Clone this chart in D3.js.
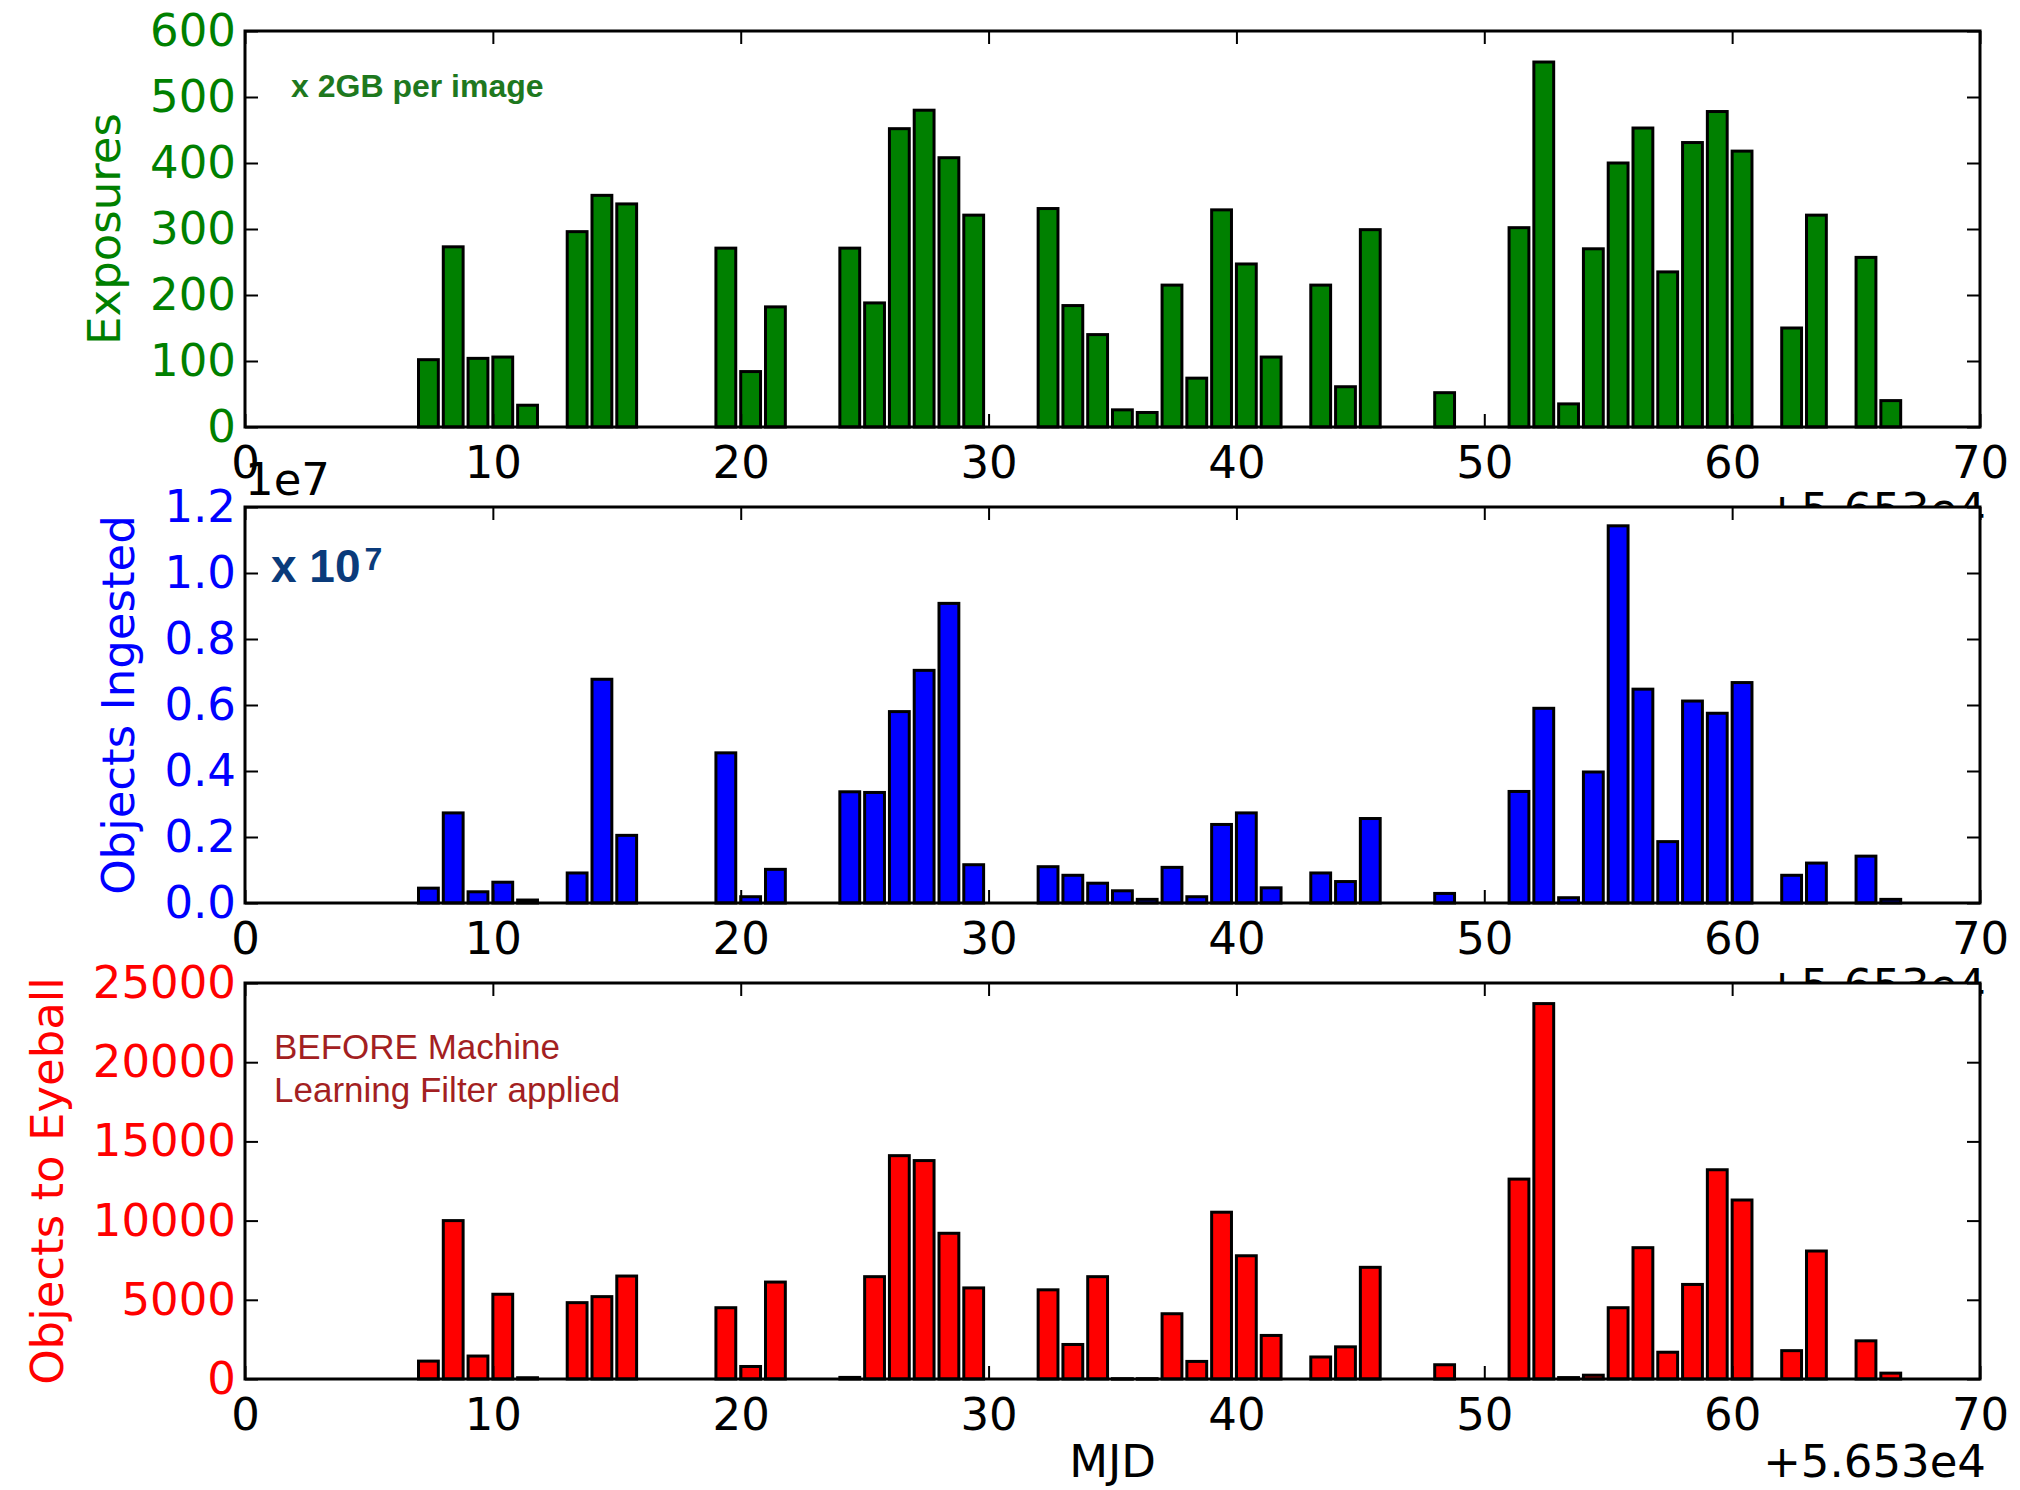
<!DOCTYPE html>
<html>
<head>
<meta charset="utf-8">
<script src="https://cdn.jsdelivr.net/npm/d3@7"></script>
<style>
  html, body { margin: 0; padding: 0; background: #fff; }
  svg { display: block; }
  .tick line { stroke: #000; stroke-width: 2; }
  .tick text { font-family: "DejaVu Sans", sans-serif; font-size: 45px; fill: #000; }
</style>
</head>
<body>
<svg id="chart" width="2020" height="1490"></svg>
<script>
// Observing nights (MJD) with activity
const mjd = [56537, 56538, 56539, 56540, 56541, 56543, 56544, 56545, 56549, 56550,
             56551, 56554, 56555, 56556, 56557, 56558, 56559, 56562, 56563, 56564,
             56565, 56566, 56567, 56568, 56569, 56570, 56571, 56573, 56574, 56575,
             56578, 56581, 56582, 56583, 56584, 56585, 56586, 56587, 56588, 56589,
             56590, 56592, 56593, 56595, 56596];

// Exposures per night
const exposures = [102, 273, 104, 106, 33, 296, 351, 338, 271, 84,
                   182, 271, 188, 452, 480, 408, 321, 331, 184, 140,
                   26, 22, 215, 74, 329, 247, 106, 215, 61, 299,
                   52, 302, 553, 35, 270, 400, 453, 235, 431, 478,
                   418, 150, 321, 257, 40];

// Objects ingested per night
const objectsIngested = [450000, 2730000, 340000, 630000, 90000, 910000, 6780000, 2050000, 4550000, 190000,
                         1020000, 3370000, 3350000, 5800000, 7050000, 9080000, 1160000, 1100000, 840000, 600000,
                         370000, 110000, 1080000, 190000, 2380000, 2730000, 460000, 910000, 650000, 2560000,
                         290000, 3380000, 5900000, 160000, 3970000, 11430000, 6480000, 1860000, 6120000, 5750000,
                         6680000, 840000, 1210000, 1420000, 110000];

// Objects to eyeball per night (before machine-learning filter)
const objectsToEyeball = [1130, 10000, 1450, 5350, 80, 4820, 5200, 6500, 4500, 790,
                          6120, 100, 6460, 14100, 13790, 9200, 5750, 5630, 2180, 6460,
                          20, 20, 4120, 1110, 10530, 7780, 2750, 1390, 2030, 7050,
                          900, 12620, 23700, 90, 240, 4500, 8290, 1690, 5970, 13210,
                          11300, 1790, 8080, 2410, 370];

// Axis ticks
const mjdOffset = 56530;
const mjdTicks = [56530, 56540, 56550, 56560, 56570, 56580, 56590, 56600];
const exposureTicks = [0, 100, 200, 300, 400, 500, 600];
const ingestedTicks = [0, 2e6, 4e6, 6e6, 8e6, 1e7, 1.2e7];
const eyeballTicks = [0, 5000, 10000, 15000, 20000, 25000];

const svg = d3.select("#chart");
svg.append("rect").attr("width", 2020).attr("height", 1490).attr("fill", "#fff");

const plotLeft = 245, plotRight = 1980, plotHeight = 396;
const panelTops = [31, 507, 983];
const barWidth = 0.8;

const x = d3.scaleLinear().domain([mjdTicks[0], mjdTicks[mjdTicks.length - 1]]).range([plotLeft, plotRight]);

const panels = [
  { values: exposures, ticks: exposureTicks, color: "#008000", label: "Exposures",
    fmt: d => String(d), yOffsetText: null },
  { values: objectsIngested, ticks: ingestedTicks, color: "#0000ff", label: "Objects Ingested",
    fmt: d => (d / 1e7).toFixed(1), yOffsetText: "1e7" },
  { values: objectsToEyeball, ticks: eyeballTicks, color: "#ff0000", label: "Objects to Eyeball",
    fmt: d => String(d), yOffsetText: null }
];

panels.forEach((p, i) => {
  const top = panelTops[i], bottom = top + plotHeight;
  const y = d3.scaleLinear().domain([0, d3.max(p.ticks)]).range([bottom, top]);
  const g = svg.append("g");

  // axes background
  g.append("rect")
    .attr("x", plotLeft).attr("y", top)
    .attr("width", plotRight - plotLeft).attr("height", plotHeight)
    .attr("fill", "#fff");

  // bars
  g.append("g").selectAll("rect")
    .data(mjd.map((m, k) => ({ m, v: p.values[k] })))
    .join("rect")
    .attr("x", d => x(d.m))
    .attr("width", d => x(d.m + barWidth) - x(d.m))
    .attr("y", d => y(d.v))
    .attr("height", d => Math.max(0.5, y(0) - y(d.v)))
    .attr("fill", p.color)
    .attr("stroke", "#000")
    .attr("stroke-width", 3);

  // bottom axis with labels, ticks inward
  const xb = g.append("g").attr("transform", `translate(0,${bottom})`)
    .call(d3.axisBottom(x).tickValues(mjdTicks).tickSizeInner(-13).tickSizeOuter(0).tickPadding(19)
      .tickFormat(d => String(d - mjdOffset)));
  xb.select(".domain").remove();

  // top axis, ticks only
  const xt = g.append("g").attr("transform", `translate(0,${top})`)
    .call(d3.axisTop(x).tickValues(mjdTicks).tickSizeInner(-13).tickSizeOuter(0).tickFormat(""));
  xt.select(".domain").remove();

  // left axis with labels
  const yl = g.append("g").attr("transform", `translate(${plotLeft},0)`)
    .call(d3.axisLeft(y).tickValues(p.ticks).tickSizeInner(-13).tickSizeOuter(0).tickPadding(9)
      .tickFormat(p.fmt));
  yl.select(".domain").remove();
  yl.selectAll(".tick text").attr("fill", p.color).style("fill", p.color);

  // right axis, ticks only
  const yr = g.append("g").attr("transform", `translate(${plotRight},0)`)
    .call(d3.axisRight(y).tickValues(p.ticks).tickSizeInner(-13).tickSizeOuter(0).tickFormat(""));
  yr.select(".domain").remove();

  // spines
  g.append("rect")
    .attr("x", plotLeft).attr("y", top)
    .attr("width", plotRight - plotLeft).attr("height", plotHeight)
    .attr("fill", "none").attr("stroke", "#000").attr("stroke-width", 3);

  // y label placed left of the widest tick label
  let minX = Infinity;
  yl.selectAll(".tick text").each(function () {
    const b = this.getBBox();
    minX = Math.min(minX, b.x);
  });
  const labelX = plotLeft + minX - 30;
  g.append("text")
    .attr("transform", `translate(${labelX},${(top + bottom) / 2}) rotate(-90)`)
    .attr("text-anchor", "middle")
    .attr("font-family", "DejaVu Sans, sans-serif")
    .attr("font-size", 45)
    .attr("fill", p.color)
    .text(p.label);

  // y offset text above the axes
  if (p.yOffsetText) {
    g.append("text")
      .attr("x", plotLeft).attr("y", top - 12)
      .attr("font-family", "DejaVu Sans, sans-serif")
      .attr("font-size", 45)
      .attr("fill", "#000")
      .text(p.yOffsetText);
  }

  // x offset text below the axes
  g.append("text")
    .attr("x", plotRight + 6).attr("y", bottom + 98)
    .attr("text-anchor", "end")
    .attr("font-family", "DejaVu Sans, sans-serif")
    .attr("font-size", 45)
    .attr("fill", "#000")
    .text("+5.653e4");

  // annotations
  if (i === 0) {
    g.append("text")
      .attr("x", 291).attr("y", 97)
      .attr("font-family", "Liberation Sans, Arial, sans-serif")
      .attr("font-weight", "bold")
      .attr("font-size", 32)
      .attr("fill", "#1e781e")
      .text("x 2GB per image");
  }
  if (i === 1) {
    const t = g.append("text")
      .attr("x", 271).attr("y", 582)
      .attr("font-family", "Liberation Sans, Arial, sans-serif")
      .attr("font-weight", "bold")
      .attr("font-size", 46)
      .attr("fill", "#0a3b7b");
    t.append("tspan").text("x 10");
    t.append("tspan").attr("font-size", 32).attr("dy", -12).attr("dx", 4).text("7");
  }
  if (i === 2) {
    const lines = ["BEFORE Machine", "Learning Filter applied"];
    g.append("g").selectAll("text").data(lines).join("text")
      .attr("x", 274)
      .attr("y", (d, k) => 1059 + k * 43)
      .attr("font-family", "Liberation Sans, Arial, sans-serif")
      .attr("font-size", 35)
      .attr("fill", "#a31f22")
      .text(d => d);

    g.append("text")
      .attr("x", (plotLeft + plotRight) / 2).attr("y", 1477)
      .attr("text-anchor", "middle")
      .attr("font-family", "DejaVu Sans, sans-serif")
      .attr("font-size", 45)
      .attr("fill", "#000")
      .text("MJD");
  }
});
</script>
</body>
</html>
